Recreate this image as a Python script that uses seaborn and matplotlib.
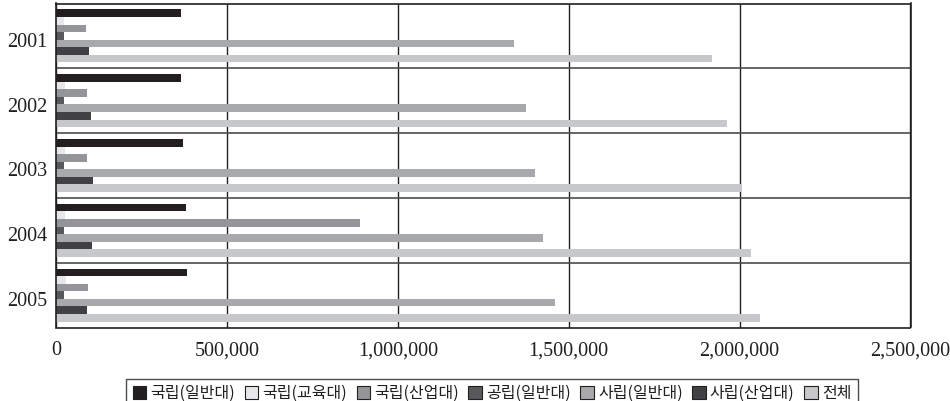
import matplotlib
matplotlib.use("Agg")
import matplotlib.pyplot as plt
import matplotlib.transforms as mtransforms
import seaborn as sns
import pandas as pd
from matplotlib.ticker import FuncFormatter, MultipleLocator

years = ["2001", "2002", "2003", "2004", "2005"]
series = ["국립(일반대)", "국립(교육대)", "국립(산업대)", "공립(일반대)", "사립(일반대)", "사립(산업대)", "전체"]
national_general = [365000, 367000, 373000, 379000, 383000]
national_edu = [23000, 26000, 26000, 26000, 28000]
national_industrial = [88000, 90000, 91000, 889000, 94000]
public_general = [23000, 23000, 23000, 24000, 24000]
private_general = [1339000, 1374000, 1400000, 1426000, 1459000]
private_industrial = [96000, 102000, 107000, 105000, 92000]
total = [1918000, 1962000, 2006000, 2032000, 2061000]
colors = ["#231f20", "#e6e7e8", "#939598", "#58595b", "#a7a9ac", "#414042", "#c7c8ca"]

values = [national_general, national_edu, national_industrial, public_general,
          private_general, private_industrial, total]
rows = []
for s, vals in zip(series, values):
    for y, v in zip(years, vals):
        rows.append({"year": y, "series": s, "value": v})
df = pd.DataFrame(rows)

sns.set_theme(style="white")
plt.rcParams["font.family"] = ["Noto Sans CJK KR", "DejaVu Sans"]

fig = plt.figure(figsize=(9.5, 4.01), dpi=100)
ax = fig.add_axes([56/950, 1-327.5/401, (910.5-56)/950, (327.5-3.5)/401])

sns.barplot(data=df, x="value", y="year", hue="series", order=years, hue_order=series,
            palette=colors, orient="h", width=0.82, dodge=True, ax=ax,
            edgecolor="none", linewidth=0, saturation=1, legend=True)

ax.set_xlim(0, 2500000)
ax.set_ylim(4.5, -0.5)
ax.xaxis.set_major_locator(MultipleLocator(500000))
ax.xaxis.set_major_formatter(FuncFormatter(lambda v, p: f"{int(v):,}"))
ax.set_yticks(range(len(years)))
ax.set_yticklabels(years)
ax.set_yticks([0.5, 1.5, 2.5, 3.5], minor=True)
ax.set_xlabel("")
ax.set_ylabel("")
ax.grid(axis="x", which="major", color="#231f20", linewidth=1.0)
ax.grid(axis="y", which="minor", color="#4d4d4f", linewidth=1.2)
ax.grid(axis="y", which="major", visible=False)
ax.set_axisbelow(True)
ax.tick_params(axis="both", which="both", length=0)
ax.tick_params(axis="x", pad=10)
ax.tick_params(axis="y", pad=6)
for lab in ax.get_xticklabels() + ax.get_yticklabels():
    lab.set_fontfamily("Liberation Serif")
    lab.set_fontsize(14.5)
    lab.set_color("#231f20")
shift = mtransforms.ScaledTranslation(0, -4/100, fig.dpi_scale_trans)
for lab in ax.get_yticklabels():
    lab.set_transform(lab.get_transform() + shift)
for sp in ax.spines.values():
    sp.set_color("#231f20")
    sp.set_linewidth(1.2)

handles, labels = ax.get_legend_handles_labels()
ax.legend_.remove()
for h in handles:
    h.set_edgecolor("#231f20")
    h.set_linewidth(0.8)
leg = fig.legend(handles, labels, loc="lower center", bbox_to_anchor=(492/950, -0.02),
                 ncol=7, frameon=True, fancybox=False, fontsize=11.5,
                 handlelength=0.85, handleheight=0.85, handletextpad=0.25,
                 columnspacing=0.6, borderpad=0.42, borderaxespad=0)
leg.get_frame().set_edgecolor("#231f20")
leg.get_frame().set_linewidth(1.0)
for t in leg.get_texts():
    t.set_color("#231f20")

fig.savefig("out.png", dpi=100)
